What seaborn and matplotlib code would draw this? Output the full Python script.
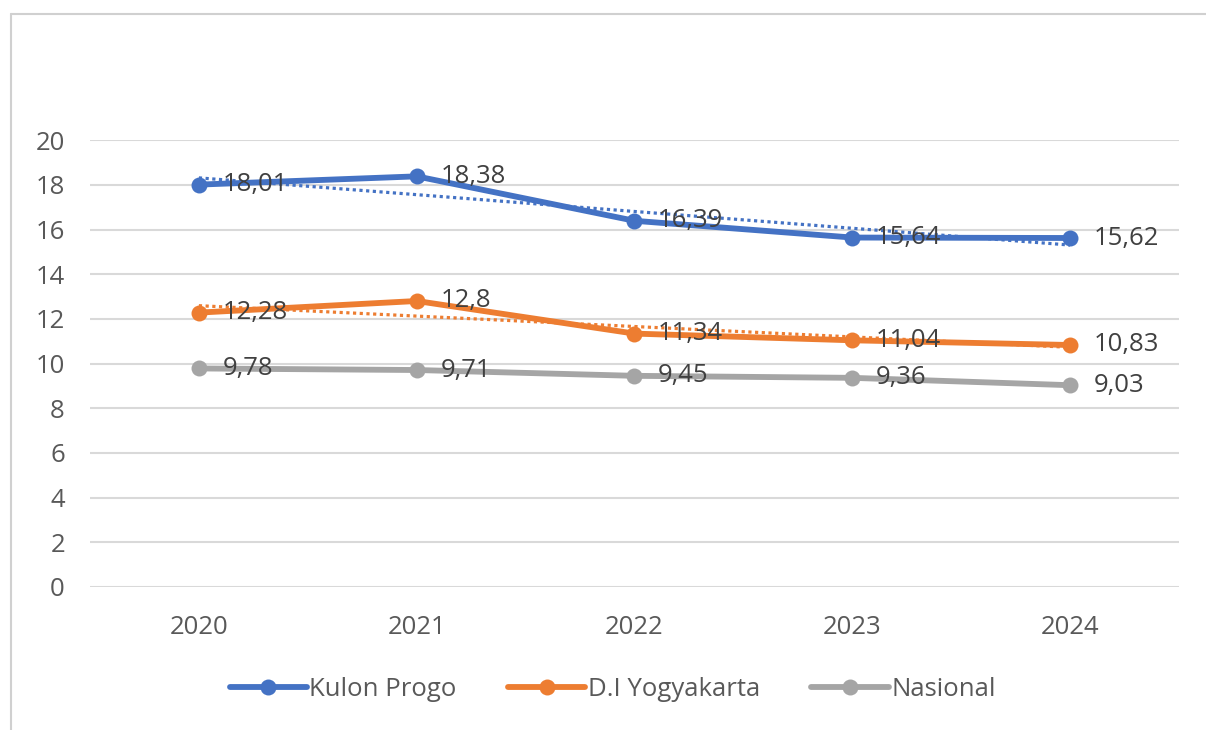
import numpy as np
import pandas as pd
import matplotlib
matplotlib.use('Agg')
import matplotlib.pyplot as plt
import seaborn as sns
from matplotlib.lines import Line2D

years = ['2020', '2021', '2022', '2023', '2024']
kulon_progo = [18.01, 18.38, 16.39, 15.64, 15.62]
diy = [12.28, 12.8, 11.34, 11.04, 10.83]
nasional = [9.78, 9.71, 9.45, 9.36, 9.03]

series = ['Kulon Progo', 'D.I Yogyakarta', 'Nasional']
colors = ['#4472C4', '#ED7D31', '#A5A5A5']
with_trend = [True, True, False]

sns.set_theme(style='white')
plt.rcParams['font.family'] = ['Open Sans', 'DejaVu Sans']
txt = '#595959'
fs = 18.5

fig = plt.figure(figsize=(12.06, 7.3), dpi=100)
ax = fig.add_axes([0.0746, 0.196, 0.903, 0.612])

# border (top and left edges visible in the original)
fig.add_artist(Line2D([0.009, 1.0], [0.981, 0.981], transform=fig.transFigure,
                      color='#D0D0D0', linewidth=1.5))
fig.add_artist(Line2D([0.009, 0.009], [0.0, 0.981], transform=fig.transFigure,
                      color='#D0D0D0', linewidth=1.5))

x = np.arange(len(years))
data = {'Kulon Progo': kulon_progo, 'D.I Yogyakarta': diy, 'Nasional': nasional}

for name, col, trend in zip(series, colors, with_trend):
    vals = data[name]
    df = pd.DataFrame({'x': x, 'y': vals})
    sns.lineplot(data=df, x='x', y='y', ax=ax, color=col, linewidth=4.2,
                 marker='o', markersize=11.5, markeredgewidth=0, label=name, zorder=3)
    if trend:
        k, b = np.polyfit(x, vals, 1)
        ax.plot(x, k * x + b, linestyle=(0, (1, 1.1)), color=col, linewidth=2.3, zorder=2)
    for xi, v in zip(x, vals):
        lab = ('%g' % v).replace('.', ',')
        ax.annotate(lab, (xi, v), xytext=(17, 0), textcoords='offset points',
                    ha='left', va='center', fontsize=fs, color='#404040', zorder=4)

ax.set_xlim(-0.5, 4.5)
ax.set_ylim(0, 20)
ax.set_yticks(range(0, 21, 2))
ax.set_xticks(x)
ax.set_xticklabels(years)
ax.yaxis.grid(True, color='#D9D9D9', linewidth=1.5)
ax.set_axisbelow(True)
for s in ax.spines.values():
    s.set_visible(False)
ax.tick_params(axis='both', colors=txt, labelsize=fs, length=0)
ax.tick_params(axis='y', pad=18)
ax.tick_params(axis='x', pad=20)
ax.set_xlabel('')
ax.set_ylabel('')

handles, labels = ax.get_legend_handles_labels()
leg = ax.legend(handles, labels, loc='center', bbox_to_anchor=(0.48, -0.23),
                ncol=3, frameon=False, fontsize=fs, handlelength=3.0,
                columnspacing=2.0, handletextpad=0.1)
for t in leg.get_texts():
    t.set_color(txt)

fig.savefig('out.png', dpi=100)
